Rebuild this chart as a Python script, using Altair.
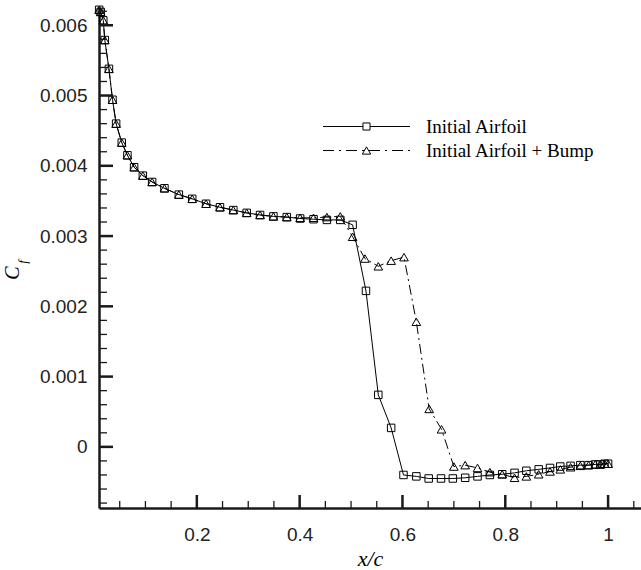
import altair as alt
import pandas as pd

# ---------------- data ----------------
x_initial = [0.010, 0.013, 0.018, 0.021, 0.029, 0.036, 0.043, 0.054, 0.065, 0.078,
             0.095, 0.113, 0.137, 0.165, 0.191, 0.218, 0.245, 0.271, 0.297, 0.323,
             0.349, 0.375, 0.401, 0.427, 0.453, 0.479, 0.503, 0.529, 0.553, 0.578,
             0.602, 0.627, 0.651, 0.675, 0.698, 0.722, 0.746, 0.770, 0.794, 0.818,
             0.841, 0.865, 0.887, 0.907, 0.927, 0.946, 0.962, 0.975, 0.985, 0.993, 1.000]
cf_initial = [6.22, 6.19, 6.07, 5.79, 5.38, 4.94, 4.60, 4.33, 4.15, 3.98,
              3.86, 3.77, 3.68, 3.59, 3.53, 3.46, 3.41, 3.37, 3.33, 3.30,
              3.28, 3.27, 3.25, 3.24, 3.23, 3.23, 3.16, 2.22, 0.74, 0.27,
              -0.40, -0.42, -0.45, -0.45, -0.45, -0.44, -0.42, -0.40, -0.39, -0.37,
              -0.34, -0.32, -0.30, -0.28, -0.27, -0.26, -0.26, -0.25, -0.25, -0.24, -0.24]

x_bump = [0.010, 0.013, 0.018, 0.021, 0.029, 0.036, 0.043, 0.054, 0.065, 0.078,
          0.095, 0.113, 0.137, 0.165, 0.191, 0.218, 0.245, 0.271, 0.297, 0.323,
          0.349, 0.375, 0.401, 0.427, 0.453, 0.479, 0.503, 0.527, 0.553, 0.578,
          0.603, 0.627, 0.652, 0.676, 0.700, 0.722, 0.746, 0.770, 0.794, 0.818,
          0.841, 0.865, 0.887, 0.907, 0.927, 0.946, 0.962, 0.975, 0.985, 0.993, 1.000]
cf_bump = [6.22, 6.19, 6.07, 5.79, 5.38, 4.94, 4.60, 4.33, 4.15, 3.98,
           3.86, 3.77, 3.68, 3.59, 3.53, 3.46, 3.41, 3.37, 3.33, 3.30,
           3.28, 3.27, 3.26, 3.26, 3.27, 3.28, 2.99, 2.68, 2.57, 2.65,
           2.70, 1.78, 0.54, 0.25, -0.28, -0.26, -0.30, -0.36, -0.39, -0.44,
           -0.42, -0.39, -0.35, -0.32, -0.29, -0.27, -0.26, -0.25, -0.25, -0.24, -0.24]

x_major_ticks = [0.2, 0.4, 0.6, 0.8, 1.0]
x_minor_ticks = [0.05, 0.10, 0.15, 0.25, 0.30, 0.35, 0.45, 0.50, 0.55, 0.65, 0.70,
                 0.75, 0.85, 0.90, 0.95, 1.05]
y_major_ticks = [0.0, 0.001, 0.002, 0.003, 0.004, 0.005, 0.006]
y_minor_ticks = [-0.0008, -0.0006, -0.0004, -0.0002,
                 0.0002, 0.0004, 0.0006, 0.0008, 0.0012, 0.0014, 0.0016, 0.0018,
                 0.0022, 0.0024, 0.0026, 0.0028, 0.0032, 0.0034, 0.0036, 0.0038,
                 0.0042, 0.0044, 0.0046, 0.0048, 0.0052, 0.0054, 0.0056, 0.0058,
                 0.0062]

label_initial = "Initial Airfoil"
label_bump = "Initial Airfoil + Bump"

# ---------------- tables ----------------
df_init = pd.DataFrame({"x": x_initial, "cf": [v * 1e-3 for v in cf_initial]})
df_bump = pd.DataFrame({"x": x_bump, "cf": [v * 1e-3 for v in cf_bump]})
df_xmaj = pd.DataFrame({"x": x_major_ticks})
df_xmin = pd.DataFrame({"x": x_minor_ticks})
df_ymaj = pd.DataFrame({"cf": y_major_ticks})
df_ymin = pd.DataFrame({"cf": y_minor_ticks})
one = pd.DataFrame({"a": [0]})

W, H = 542, 501
XS = alt.Scale(domain=[0.0097, 1.064], nice=False, zero=False)
YS = alt.Scale(domain=[-0.00087, 0.00626], nice=False, zero=False)

INK = "#000000"
AX = "#1a1a1a"

x_axis = alt.Axis(values=x_major_ticks, format=".1~f", ticks=False, tickSize=0, grid=False,
                  domainColor=AX, domainWidth=2.5, labelFont="Liberation Sans",
                  labelFontSize=19, labelColor="#222222", labelPadding=17,
                  title="x/c", titleFont="Liberation Serif", titleFontStyle="italic",
                  titleFontWeight="normal", titleFontSize=22, titleColor=INK,
                  titlePadding=4)
y_axis = alt.Axis(values=y_major_ticks, format=".3~f", ticks=False, tickSize=0, grid=False,
                  domainColor=AX, domainWidth=2.5, labelFont="Liberation Sans",
                  labelFontSize=19, labelColor="#222222", labelPadding=12, title=None)


def X(field="x"):
    return alt.X(f"{field}:Q", scale=XS, axis=x_axis)


def Y(field="cf"):
    return alt.Y(f"{field}:Q", scale=YS, axis=y_axis)


dash_bump = [10, 4, 2, 4]

line_init = alt.Chart(df_init).mark_line(color=INK, strokeWidth=1).encode(x=X(), y=Y())
line_bump = alt.Chart(df_bump).mark_line(color=INK, strokeWidth=1,
                                         strokeDash=dash_bump).encode(x=X(), y=Y())
pts_init = alt.Chart(df_init).mark_point(shape="square", filled=False, color=INK,
                                         strokeWidth=1, size=56, opacity=1).encode(x=X(), y=Y())
pts_bump = alt.Chart(df_bump).mark_point(shape="triangle-up", filled=False, color=INK,
                                         strokeWidth=1, size=75, opacity=1).encode(x=X(), y=Y())

# inward ticks
xmaj = alt.Chart(df_xmaj).mark_rule(color=AX, strokeWidth=2.5).encode(
    x=X(), y=alt.value(H), y2=alt.value(H - 13))
xmin = alt.Chart(df_xmin).mark_rule(color=AX, strokeWidth=1.3).encode(
    x=X(), y=alt.value(H), y2=alt.value(H - 7))
ymaj = alt.Chart(df_ymaj).mark_rule(color=AX, strokeWidth=2.5).encode(
    y=Y(), x=alt.value(0), x2=alt.value(14))
ymin = alt.Chart(df_ymin).mark_rule(color=AX, strokeWidth=1.3).encode(
    y=Y(), x=alt.value(0), x2=alt.value(8))

# y title C_f (rotated)
ytitle_c = alt.Chart(one).mark_text(angle=270, font="Liberation Serif", fontStyle="italic",
                                    fontSize=20, color=INK, align="center",
                                    baseline="middle").encode(
    x=alt.value(-86), y=alt.value(266), text=alt.value("C"))
ytitle_f = alt.Chart(one).mark_text(angle=270, font="Liberation Serif", fontStyle="italic",
                                    fontSize=13, color=INK, align="center",
                                    baseline="middle").encode(
    x=alt.value(-76), y=alt.value(255), text=alt.value("f"))

# legend
ly1, ly2 = 119.5, 143.5
lx0, lx1, lxm, ltx = 224, 311, 267.5, 327
leg_l1 = alt.Chart(one).mark_rule(color=INK, strokeWidth=1).encode(
    x=alt.value(lx0), x2=alt.value(lx1), y=alt.value(ly1))
leg_l2 = alt.Chart(one).mark_rule(color=INK, strokeWidth=1, strokeDash=[11, 5, 2, 5]).encode(
    x=alt.value(lx0), x2=alt.value(lx1), y=alt.value(ly2))
leg_p1 = alt.Chart(one).mark_point(shape="square", filled=True, fill="white", stroke=INK,
                                   strokeWidth=1, size=50, opacity=1).encode(
    x=alt.value(lxm), y=alt.value(ly1))
leg_p2 = alt.Chart(one).mark_point(shape="triangle-up", filled=True, fill="white", stroke=INK,
                                   strokeWidth=1, size=70, opacity=1).encode(
    x=alt.value(lxm), y=alt.value(ly2))
leg_t1 = alt.Chart(one).mark_text(align="left", baseline="middle", font="Liberation Serif",
                                  fontSize=19, color=INK).encode(
    x=alt.value(ltx), y=alt.value(ly1), text=alt.value(label_initial))
leg_t2 = alt.Chart(one).mark_text(align="left", baseline="middle", font="Liberation Serif",
                                  fontSize=19, color=INK).encode(
    x=alt.value(ltx), y=alt.value(ly2), text=alt.value(label_bump))

chart = alt.layer(
    line_init, line_bump, pts_init, pts_bump,
    xmaj, xmin, ymaj, ymin,
    ytitle_c, ytitle_f,
    leg_l1, leg_l2, leg_p1, leg_p2, leg_t1, leg_t2,
).properties(
    width=W, height=H,
    autosize=alt.AutoSizeParams(type="none"),
    padding={"left": 99, "top": 7, "right": 0, "bottom": 62},
    background="white",
).configure_view(stroke=None)

chart.save("out.html", embed_options={"renderer": "svg", "actions": False})
